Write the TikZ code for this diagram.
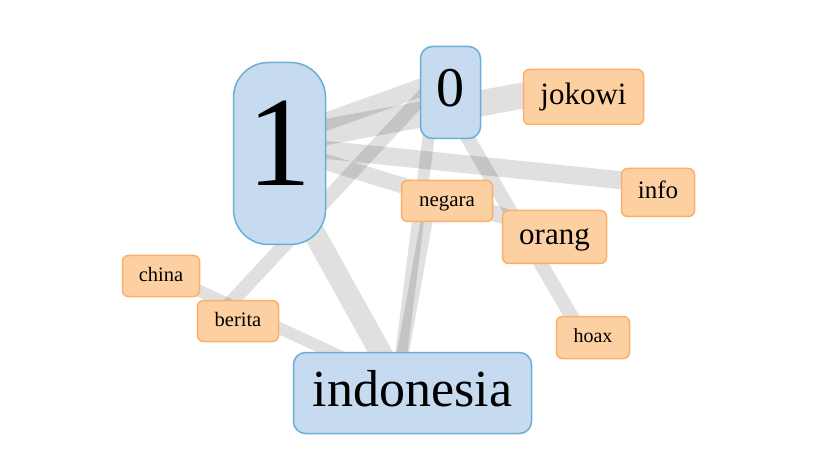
\documentclass[tikz,border=0pt]{standalone}
\usepackage{fontspec}
\setmainfont{Liberation Serif}
\usetikzlibrary{backgrounds}
\definecolor{bfill}{HTML}{C6DBEF}
\definecolor{bline}{HTML}{6BAED6}
\definecolor{ofill}{HTML}{FDD0A2}
\definecolor{oline}{HTML}{FDAE6B}
\newcommand\fsz[1]{\fontsize{#1}{#1}\selectfont}
\newcommand\lblstrut{\rule[-0.25em]{0pt}{1em}}
\begin{document}
\begin{tikzpicture}[x=1pt,y=-1pt,
  box/.style={draw, line width=1.5pt, inner sep=0pt},
  topic/.style={box, fill=bfill, draw=bline},
  word/.style={box, fill=ofill, draw=oline, rounded corners=6pt},
  link/.style={draw=black, draw opacity=0.12, line cap=butt}]
\useasboundingbox (0,0) rectangle (815,476);
\node[topic, rounded corners=35pt, minimum width=92pt, minimum height=182pt, font=\fsz{128}] (n1) at (279.5,153.5) {\lblstrut 1};
\node[topic, rounded corners=12pt, minimum width=60pt, minimum height=92pt, font=\fsz{56}] (n0) at (450.5,92.5) {\lblstrut 0};
\node[topic, rounded corners=12pt, minimum width=238pt, minimum height=81pt, font=\fsz{52}] (indo) at (412.5,393) {\lblstrut indonesia};
\node[word, minimum width=120pt, minimum height=55pt, font=\fsz{31}] (jokowi) at (583.5,97) {\lblstrut jokowi};
\node[word, minimum width=73pt, minimum height=48pt, font=\fsz{25}] (info) at (658,192.5) {\lblstrut info};
\node[word, minimum width=91pt, minimum height=41pt, font=\fsz{21}] (negara) at (447,201) {\lblstrut negara};
\node[word, minimum width=104pt, minimum height=53pt, font=\fsz{31}] (orang) at (554.5,237) {\lblstrut orang};
\node[word, minimum width=73pt, minimum height=42pt, font=\fsz{20}] (hoax) at (593,337.5) {\lblstrut hoax};
\node[word, minimum width=77pt, minimum height=41pt, font=\fsz{20.5}] (china) at (161,276) {\lblstrut china};
\node[word, minimum width=81pt, minimum height=41pt, font=\fsz{20.5}] (berita) at (238,321) {\lblstrut berita};
\begin{scope}[on background layer]
  \fill[white] (0,0) rectangle (815,476);
  \begin{scope}[transform canvas={shift={(-15pt,10pt)}}]
    \draw[link, line width=18pt] (n1.center) -- (n0.center);
    \draw[link, line width=26pt] (n1.center) -- (jokowi.center);
    \draw[link, line width=18pt] (n1.center) -- (info.center);
    \draw[link, line width=16pt] (n1.center) -- (orang.center);
    \draw[link, line width=22pt] (n1.center) -- (indo.center);
    \draw[link, line width=14pt] (n0.center) -- (hoax.center);
    \draw[link, line width=12pt] (n0.center) -- (indo.center);
    \draw[link, line width=12pt] (negara.center) -- (indo.center);
    \draw[link, line width=14pt] (berita.center) -- (n0.center);
    \draw[link, line width=12pt] (china.center) -- (indo.center);
  \end{scope}
\end{scope}
\end{tikzpicture}
\end{document}
